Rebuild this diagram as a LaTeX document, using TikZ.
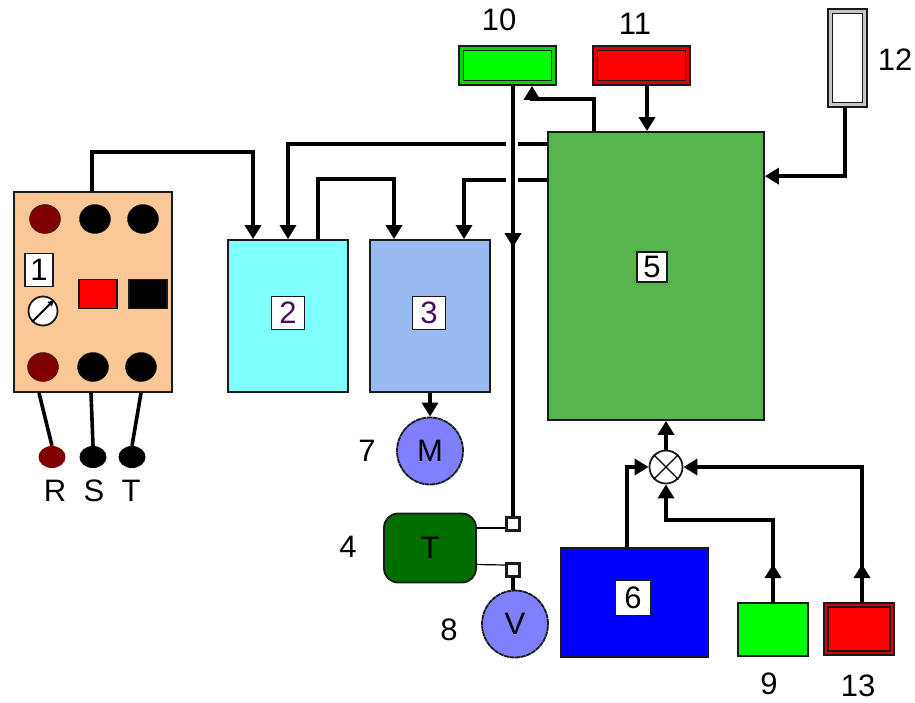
\documentclass[tikz,border=0pt]{standalone}
\usepackage{fontspec}
\setmainfont{Liberation Sans}
\usetikzlibrary{arrows.meta,shapes.geometric,positioning}
\definecolor{panel}{HTML}{F9C896}
\definecolor{darkred}{HTML}{800000}
\definecolor{aqua}{HTML}{80FFFF}
\definecolor{paleblue}{HTML}{98BAF0}
\definecolor{leaf}{HTML}{58B44C}
\definecolor{motor}{HTML}{8080FF}
\definecolor{pine}{HTML}{006F00}
\definecolor{plum}{HTML}{4A0E5C}
\definecolor{lime}{HTML}{00FF00}
\definecolor{edgegray}{HTML}{1A1A1A}

\begin{document}
\begin{tikzpicture}[x=1pt,y=-1pt,>={Triangle[length=14pt,width=16pt]},
                    font=\fontsize{31}{31}\selectfont,
                    box/.style={draw=edgegray, line width=1.8pt, inner sep=0pt},
                    lamp/.style={ellipse, fill=black, draw=edgegray, inner sep=0pt, minimum width=31pt, minimum height=29pt},
                    pin/.style={ellipse, fill=black, inner sep=0pt, minimum width=27pt, minimum height=22pt},
                    tag/.style={box, fill=white, minimum size=33pt},
                    num/.style={inner sep=0pt},
                    dial/.style={ellipse, box, dashed, dash pattern=on 5pt off 0.6pt, fill=motor, minimum width=66pt, minimum height=67pt},
                    port/.style={box, fill=white, line width=2.6pt, minimum size=13pt},
                    wire/.style={line width=3.6pt, black}]

  \useasboundingbox (0,0) rectangle (915,702);

  % panel
  \node[box, fill=panel, minimum width=158pt, minimum height=200pt] at (93,292) (P) {};
  \node[lamp, fill=darkred] at (45,219)  (L1) {};
  \node[lamp]               at (95,219)  (L2) {};
  \node[lamp]               at (143,219) (L3) {};
  \node[lamp, fill=darkred] at (43,367)  (L4) {};
  \node[lamp]               at (93,367)  (L5) {};
  \node[lamp]               at (141,367) (L6) {};
  \node[box, fill=white, minimum width=28pt, minimum height=33pt] at (39,270) (T1) {1};
  \node[box, circle, fill=white, minimum size=29pt] at (43,311) (G) {};
  \node[box, fill=red, minimum width=38pt, minimum height=29pt]   at (98,294)  (K1) {};
  \node[box, fill=black, minimum width=38pt, minimum height=29pt] at (148,294) (K2) {};
  \draw[-{Triangle[length=6pt,width=6pt]}, line width=1.8pt] (G.south west) -- (G.north east);

  \node[pin, fill=darkred] at (52,457)  (R) {};
  \node[pin]               at (93,457)  (S) {};
  \node[pin]               at (132,457) (Q) {};
  \node[num] at (55,491)  (RL) {R};
  \node[num] at (94,491)  (SL) {S};
  \node[num] at (131,491) (QL) {T};

  % main blocks
  \node[box, fill=aqua, minimum width=120pt, minimum height=152pt]     at (288,316) (B2) {};
  \node[box, fill=paleblue, minimum width=120pt, minimum height=152pt] at (430,316) (B3) {};
  \node[box, fill=leaf, minimum width=216pt, minimum height=288pt]     at (656,276) (B5) {};
  \node[box, fill=blue, minimum width=147pt, minimum height=109pt]     at (634.5,602.5) (B6) {};
  \node[tag, text=plum] at (288,313) (T2) {2};
  \node[tag, text=plum] at (429,313) (T3) {3};
  \node[tag, minimum size=30pt] at (652,267) (T5) {5};
  \node[tag, minimum size=35pt] at (633,598) (T6) {6};

  % top units
  \node[box, fill=lime!85!black, minimum width=97pt, minimum height=39pt] at (507.5,65.5) (B10) {};
  \node[box, fill=lime, minimum width=88pt, minimum height=30pt]          at (507.5,65.5) (I10) {};
  \node[box, fill=red!85!black, minimum width=97pt, minimum height=39pt]  at (641.5,65.5) (B11) {};
  \node[box, fill=red, minimum width=88pt, minimum height=30pt]           at (641.5,65.5) (I11) {};
  \node[box, fill=gray!45, minimum width=39pt, minimum height=98pt]       at (847.5,58)   (B12) {};
  \node[box, fill=white, minimum width=30pt, minimum height=89pt]         at (847.5,58)   (I12) {};

  % lower units
  \node[box, fill=lime, minimum width=70pt, minimum height=53pt]         at (773,629.5) (B9) {};
  \node[box, fill=red!85!black, minimum width=70pt, minimum height=52pt] at (859,629)   (B13) {};
  \node[box, fill=red, minimum width=62pt, minimum height=44pt]          at (859,629)   (I13) {};
  \node[box, circle, fill=white, minimum size=33pt] at (666,467) (X) {};
  \draw[line width=1.2pt] (X.north west) -- (X.south east) (X.north east) -- (X.south west);

  \node[dial] at (430,451) (M) {M};
  \node[dial] at (515,624) (V) {V};
  \node[box, rounded corners=14pt, fill=pine, minimum width=92pt, minimum height=69pt] at (430,548) (Tr) {T};
  \node[port] at (513,524) (A) {};
  \node[port] at (513,570) (C) {};

  % numbers
  \node[num] at (499,20)  (N10) {10};
  \node[num] at (635,24)  (N11) {11};
  \node[num] at (895,60)  (N12) {12};
  \node[num] at (367,451) (N7)  {7};
  \node[num] at (348,547) (N4)  {4};
  \node[num] at (449,630) (N8)  {8};
  \node[num] at (769,684) (N9)  {9};
  \node[num] at (858,686) (N13) {13};

  % supply lines
  \draw[wire] ([xshift=-54pt]P.south) -- (R.north);
  \draw[wire] ([xshift=-2pt]P.south)  -- (S.north);
  \draw[wire] ([xshift=48pt]P.south)  -- (Q.north);
  \draw[wire,->] ([xshift=-1pt]P.north) -- ++(0,-39) -| ([xshift=-35pt]B2.north);
  \draw[wire,->] ([xshift=30pt]B2.north) -- ++(0,-60) -| ([xshift=-36pt]B3.north);
  \draw[wire,->] (B3.south) -- (M.north);

  % lines from block 5, broken where they pass the measuring line
  \draw[wire] ([yshift=-13pt]B5.north west) -- ++(-29,0);
  \draw[wire,->] ([yshift=-13pt]B5.north west) ++(-41,0) -| (B2.north);
  \draw[wire] ([yshift=-49pt]B5.north west) -- ++(-29,0);
  \draw[wire,->] ([yshift=-49pt]B5.north west) ++(-41,0) -| ([xshift=34pt]B3.north);
  \draw[wire,->] ([xshift=-62pt]B5.north) -- ++(0,-32) -| ([xshift=24.5pt]B10.south);
  \draw[wire,->] ([xshift=5.5pt]B11.south) -- ([xshift=-9pt]B5.north);
  \draw[wire,->] ([xshift=-2.5pt]B12.south) |- ([yshift=-45pt]B5.north east);

  % measuring line
  \draw[wire,->] ([xshift=5.5pt]B10.south) -- ([yshift=269pt]A.north);
  \draw[wire] ([yshift=275pt]A.north) -- (A.north);
  \draw[line width=1.2pt] ([yshift=20pt]Tr.east) -- ([yshift=-4pt]A.west);
  \draw[line width=1.2pt] ([yshift=-16.5pt]Tr.east) -- ([yshift=5pt]C.west);
  \draw[wire] (C.south) -- ([xshift=-2pt]V.north);

  % mixing point
  \draw[wire,->] (X.north) -- (X.north |- B5.south);
  \draw[wire,->] ([xshift=-7.5pt]B6.north) |- (X.west);
  \draw[wire,->] (B9.north) -- ++(0,-38);
  \draw[wire,->] ([yshift=32pt]B9.north) -- ++(0,-50) -| (X.south);
  \draw[wire,->] ([xshift=3pt]B13.north) -- ++(0,-38);
  \draw[wire,->] ([xshift=3pt,yshift=32pt]B13.north) |- (X.east);

\end{tikzpicture}
\end{document}
